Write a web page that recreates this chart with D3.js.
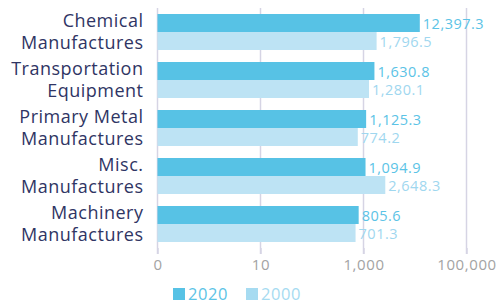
<!DOCTYPE html>
<html>
<head>
<meta charset="utf-8">
<script src="https://cdn.jsdelivr.net/npm/d3@7"></script>
<style>
  body { margin: 0; background: #fff; }
  svg { display: block; font-family: "Open Sans", sans-serif; }
</style>
</head>
<body>
<svg id="chart" width="500" height="302"></svg>
<script>
const categories = [
  ["Chemical", "Manufactures"],
  ["Transportation", "Equipment"],
  ["Primary Metal", "Manufactures"],
  ["Misc.", "Manufactures"],
  ["Machinery", "Manufactures"],
];
const values2020 = [12397.3, 1630.8, 1125.3, 1094.9, 805.6];
const values2000 = [1796.5, 1280.1, 774.2, 2648.3, 701.3];
const seriesNames = ["2020", "2000"];
const tickValues = [0.1, 10, 1000, 100000];

const colors = { "2020": "#57c2e5", "2000": "#bde3f4" };
const labelColors = { "2020": "#5bc3e6", "2000": "#9fd7ef" };

const svg = d3.select("#chart");

const margin = { top: 8, left: 157.5, right: 33.5, bottom: 54 },
  width = 500,
  height = 302,
  innerWidth = width - margin.left - margin.right,
  innerHeight = height - margin.top - margin.bottom;

const data = categories.map((c, i) => ({
  key: c.join(" "),
  lines: c,
  "2020": values2020[i],
  "2000": values2000[i],
}));

const xScale = d3
  .scaleLog()
  .domain([0.1, 100000])
  .range([0, innerWidth]);

const yScale = d3
  .scaleBand()
  .domain(data.map((d) => d.key))
  .range([0, innerHeight])
  .paddingInner(0.25)
  .paddingOuter(0.125);

const ySub = d3
  .scaleBand()
  .domain(seriesNames)
  .range([0, yScale.bandwidth()]);

const g = svg
  .append("g")
  .attr("transform", `translate(${margin.left},${margin.top})`);

// gridlines
g.append("g")
  .selectAll("line")
  .data(tickValues.slice(1))
  .join("line")
  .attr("x1", (d) => xScale(d))
  .attr("x2", (d) => xScale(d))
  .attr("y1", 0)
  .attr("y2", innerHeight + 6)
  .attr("stroke", "#d6d4e4")
  .attr("stroke-width", 1.5);

// x axis
const gx = g
  .append("g")
  .attr("transform", `translate(0,${innerHeight})`)
  .call(
    d3
      .axisBottom(xScale)
      .tickValues(tickValues)
      .tickFormat(d3.format(",.0f"))
      .tickSize(6)
      .tickPadding(5)
  );
gx.select(".domain").remove();
gx.selectAll("line").attr("stroke", "#d6d4e4").attr("stroke-width", 1.5);
gx.selectAll("text")
  .attr("fill", "#a3a3a3")
  .attr("font-size", 15)
  .attr("letter-spacing", 0.6)
  .attr("font-family", "Open Sans, sans-serif");

// left axis line
g.append("line")
  .attr("x1", 0)
  .attr("x2", 0)
  .attr("y1", 0)
  .attr("y2", innerHeight + 6)
  .attr("stroke", "#d6d4e4")
  .attr("stroke-width", 1.5);

// bars
const groups = g
  .selectAll(".group")
  .data(data)
  .join("g")
  .attr("class", "group")
  .attr("transform", (d) => `translate(0,${yScale(d.key)})`);

groups
  .selectAll("rect")
  .data((d) => seriesNames.map((s) => ({ s, v: d[s] })))
  .join("rect")
  .attr("x", 0)
  .attr("y", (d) => ySub(d.s))
  .attr("width", (d) => xScale(d.v))
  .attr("height", ySub.bandwidth())
  .attr("fill", (d) => colors[d.s]);

groups
  .selectAll(".val")
  .data((d) => seriesNames.map((s) => ({ s, v: d[s] })))
  .join("text")
  .attr("class", "val")
  .attr("x", (d) => xScale(d.v) + 3)
  .attr("y", (d) => ySub(d.s) + ySub.bandwidth() / 2 + 1)
  .attr("dy", "0.35em")
  .attr("font-size", 14.5)
  .attr("letter-spacing", 0.5)
  .attr("fill", (d) => labelColors[d.s])
  .text((d) => d3.format(",.1f")(d.v));

// category labels
groups
  .append("text")
  .attr("x", -14)
  .attr("y", yScale.bandwidth() / 2)
  .attr("text-anchor", "end")
  .attr("fill", "#2f3564")
  .attr("font-size", 18)
  .attr("letter-spacing", 0.5)
  .selectAll("tspan")
  .data((d) => d.lines)
  .join("tspan")
  .attr("x", -14)
  .attr("dy", (d, i) => (i === 0 ? "-0.3em" : "1.22em"))
  .text((d) => d);

// legend
const legend = svg
  .append("g")
  .attr("transform", `translate(173,${height - 8})`);

const legendItems = legend
  .selectAll("g")
  .data(seriesNames)
  .join("g")
  .attr("transform", (d, i) => `translate(${i * 73},0)`);

legendItems
  .append("rect")
  .attr("x", 0)
  .attr("y", -6)
  .attr("width", 12)
  .attr("height", 12)
  .attr("fill", (d) => (d === "2020" ? colors[d] : "#a6dbf1"));

legendItems
  .append("text")
  .attr("x", 15)
  .attr("y", 0)
  .attr("dy", "0.35em")
  .attr("font-size", 16.5)
  .attr("letter-spacing", 0.6)
  .attr("fill", (d) => (d === "2020" ? labelColors[d] : "#a6dbf1"))
  .text((d) => d);
</script>
</body>
</html>
